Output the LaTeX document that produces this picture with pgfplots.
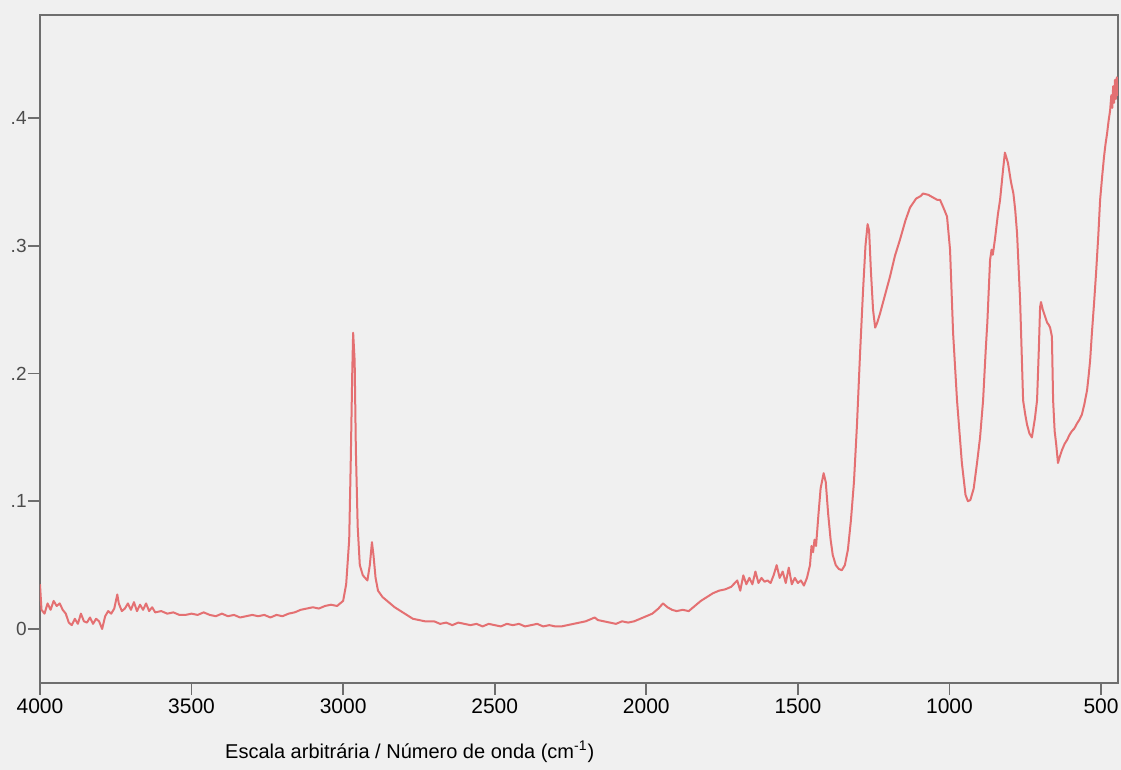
\documentclass[border=0pt]{standalone}
\usepackage{pgfplots}
\pgfplotsset{compat=1.18}
\usepackage{fontspec}
\setmainfont{Liberation Sans}
\definecolor{bgcol}{RGB}{240,240,240}
\definecolor{axiscol}{RGB}{110,110,110}
\definecolor{spec}{RGB}{228,112,114}
\begin{document}
\begin{tikzpicture}
\useasboundingbox (-20pt,-43.5pt) rectangle (540.5pt,341.5pt);
\fill[bgcol] (-20pt,-43.5pt) rectangle (540.5pt,341.5pt);
\begin{axis}[
  at={(0,0)}, anchor=south west,
  scale only axis, width=539pt, height=334pt,
  x dir=reverse, xmin=444, xmax=4000, ymin=-0.0423, ymax=0.4808,
  axis line style={draw=axiscol, line width=1pt},
  tick pos=left, tick align=outside, major tick length=6pt,
  tick style={draw=axiscol, line width=0.8pt},
  xtick={500,1000,...,4000},
  ytick={0,0.1,0.2,0.3,0.4}, yticklabels={0,.1,.2,.3,.4},
  /pgf/number format/assume math mode=true,
  /pgf/number format/1000 sep={},
  xticklabel style={black, inner sep=1pt, yshift=-0.5pt, font=\fontsize{10.5}{12}\selectfont},
  yticklabel style={black!70, inner sep=0.5pt, font=\fontsize{9.5}{11}\selectfont},
  xlabel={Escala arbitrária / Número de onda (cm\textsuperscript{-1})},
  x label style={at={(axis description cs:0.343,-0.103)}, anchor=center, font=\fontsize{10}{12}\selectfont},
]
\addplot[spec, line width=1pt, line join=round, mark=none] table {
4000 0.035
3995 0.015
3985 0.012
3975 0.020
3965 0.015
3955 0.022
3945 0.018
3935 0.020
3925 0.015
3915 0.012
3905 0.005
3895 0.003
3885 0.008
3875 0.004
3865 0.012
3855 0.006
3845 0.005
3835 0.009
3825 0.004
3815 0.008
3805 0.006
3795 0.000
3785 0.010
3775 0.014
3765 0.012
3755 0.016
3745 0.027
3740 0.020
3730 0.014
3720 0.016
3710 0.020
3700 0.015
3690 0.021
3680 0.014
3670 0.019
3660 0.015
3650 0.020
3640 0.014
3630 0.017
3620 0.013
3600 0.014
3580 0.012
3560 0.013
3540 0.011
3520 0.011
3500 0.012
3480 0.011
3460 0.013
3440 0.011
3420 0.010
3400 0.012
3380 0.010
3360 0.011
3340 0.009
3320 0.010
3300 0.011
3280 0.010
3260 0.011
3240 0.009
3220 0.011
3200 0.010
3180 0.012
3160 0.013
3140 0.015
3120 0.016
3100 0.017
3080 0.016
3060 0.018
3040 0.019
3020 0.018
3010 0.020
3000 0.022
2990 0.035
2980 0.070
2975 0.130
2970 0.200
2967 0.232
2962 0.210
2958 0.140
2952 0.080
2945 0.050
2935 0.042
2920 0.038
2912 0.050
2905 0.068
2900 0.058
2893 0.040
2885 0.030
2870 0.025
2850 0.021
2830 0.017
2810 0.014
2790 0.011
2770 0.008
2750 0.007
2730 0.006
2700 0.006
2680 0.004
2660 0.005
2640 0.003
2620 0.005
2600 0.004
2580 0.003
2560 0.004
2540 0.002
2520 0.004
2500 0.003
2480 0.002
2460 0.004
2440 0.003
2420 0.004
2400 0.002
2380 0.003
2360 0.004
2340 0.002
2320 0.003
2300 0.002
2280 0.002
2260 0.003
2240 0.004
2220 0.005
2200 0.006
2180 0.008
2170 0.009
2160 0.007
2140 0.006
2120 0.005
2100 0.004
2080 0.006
2060 0.005
2040 0.006
2020 0.008
2000 0.010
1980 0.012
1960 0.016
1945 0.020
1930 0.017
1915 0.015
1900 0.014
1880 0.015
1860 0.014
1840 0.018
1820 0.022
1800 0.025
1780 0.028
1760 0.030
1740 0.031
1720 0.033
1700 0.038
1690 0.030
1680 0.042
1670 0.035
1660 0.040
1650 0.035
1640 0.045
1630 0.036
1620 0.040
1610 0.037
1600 0.038
1590 0.036
1580 0.042
1570 0.050
1560 0.040
1550 0.045
1540 0.036
1530 0.048
1520 0.035
1510 0.040
1500 0.036
1490 0.038
1480 0.034
1470 0.040
1460 0.050
1455 0.065
1450 0.060
1445 0.070
1440 0.065
1432 0.090
1425 0.110
1415 0.122
1408 0.115
1400 0.090
1392 0.070
1385 0.058
1375 0.050
1365 0.047
1355 0.046
1345 0.050
1335 0.062
1325 0.085
1315 0.115
1305 0.160
1295 0.215
1285 0.265
1277 0.300
1270 0.317
1265 0.312
1259 0.280
1252 0.250
1245 0.236
1238 0.240
1229 0.247
1212 0.262
1196 0.276
1180 0.292
1163 0.305
1145 0.320
1130 0.330
1110 0.337
1095 0.339
1087 0.341
1070 0.340
1055 0.338
1040 0.336
1031 0.336
1020 0.330
1008 0.323
998 0.297
988 0.232
975 0.179
959 0.130
947 0.105
939 0.100
931 0.101
920 0.110
909 0.130
899 0.150
889 0.179
880 0.220
875 0.240
866 0.289
861 0.297
857 0.293
850 0.305
840 0.325
833 0.336
823 0.360
817 0.373
807 0.365
797 0.350
789 0.341
783 0.328
777 0.310
767 0.258
757 0.179
750 0.168
744 0.160
736 0.153
728 0.150
718 0.165
711 0.179
705 0.220
701 0.252
698 0.256
692 0.250
685 0.245
678 0.240
672 0.238
668 0.236
662 0.229
658 0.179
653 0.155
648 0.145
642 0.130
636 0.135
629 0.140
620 0.145
612 0.148
604 0.152
596 0.155
588 0.157
579 0.161
571 0.164
563 0.168
555 0.176
546 0.187
541 0.198
536 0.210
530 0.232
523 0.255
516 0.280
509 0.308
503 0.336
496 0.355
490 0.370
485 0.380
480 0.388
475 0.398
470 0.406
466 0.418
463 0.408
460 0.425
457 0.412
454 0.430
451 0.415
448 0.432
446 0.418
444 0.425
};
\end{axis}
\end{tikzpicture}
\end{document}
